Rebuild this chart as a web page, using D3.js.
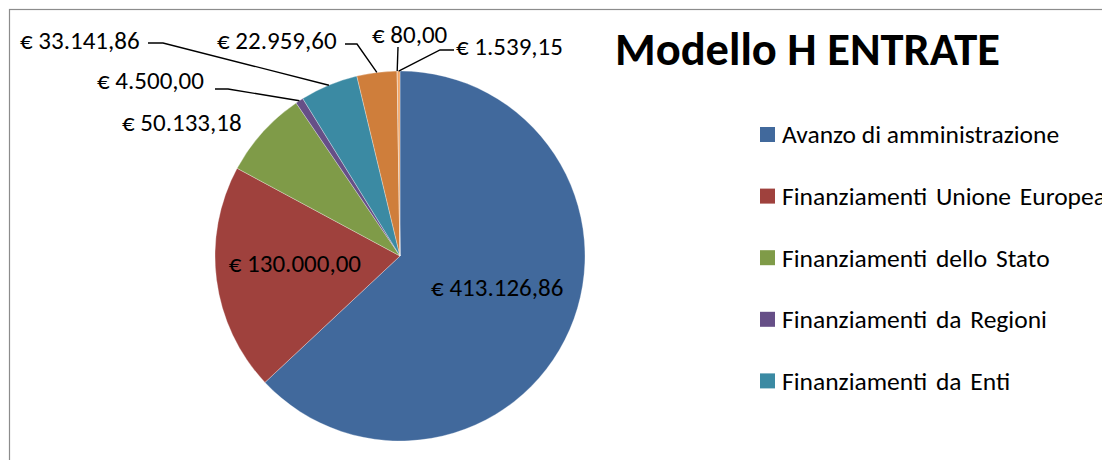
<!DOCTYPE html>
<html lang="it">
<head>
<meta charset="utf-8">
<title>Modello H ENTRATE</title>
<script src="https://d3js.org/d3.v7.min.js"></script>
<style>
body { margin: 0; background: #fff; }
text { font-family: Carlito, Lato, "Open Sans", sans-serif; fill: #000; }
.lbl { font-size: 25px; }
.legend text { font-size: 25.5px; }
.title { font-size: 46.5px; font-weight: 700; }
.leader { fill: none; stroke: #000; stroke-width: 1.4px; }
</style>
</head>
<body>
<div id="chart"></div>
<script>
// entrate (valori in euro)
var categories = [
    "Avanzo di amministrazione",
    "Finanziamenti Unione Europea",
    "Finanziamenti dello Stato",
    "Finanziamenti da Regioni",
    "Finanziamenti da Enti",
    "Contributi da Privati",
    "Proventi da gestioni economiche",
    "Altre entrate"
];
var values = [413126.86, 130000.00, 50133.18, 4500.00, 33141.86, 22959.60, 80.00, 1539.15];
var colors = ["#41699c", "#9f413d", "#7f9b48", "#664f87", "#3b8aa3", "#cf7e3b", "#2c4d75", "#f2a463"];
var legendCount = 5; // only five entries fit in the legend box

var width = 1102, height = 460;
var cx = 400, cy = 256, radius = 185;

// label placement relative to pie centre
var innerShift = [-11, -6];
var labelLayout = {
    2: {x: -278, y: -134, leader: null},
    3: {x: -303, y: -176, leader: [[-185, -167], [-172, -167]]},
    4: {x: -380, y: -216, leader: [[-252, -213], [-237, -213]]},
    5: {x: -183, y: -216, leader: [[-55, -212], [-43, -212]]},
    6: {x: -28, y: -222, leader: [[-2, -209]]},
    7: {x: 56, y: -210, leader: [[54, -206], [40, -206]]}
};

var euro = d3.formatLocale({decimal: ",", thousands: ".", grouping: [3], currency: ["€ ", ""]}).format("$,.2f");

var svg = d3.select("#chart").append("svg")
    .attr("width", width)
    .attr("height", height);

svg.append("rect")
    .attr("x", 9.5).attr("y", 9.5)
    .attr("width", 1200).attr("height", 600)
    .attr("fill", "#fff")
    .attr("stroke", "#8c8c8c")
    .attr("stroke-width", 1.2);

var pie = d3.pie().sort(null).value(function(d){ return d; });
var arcs = pie(values);
var arc = d3.arc().innerRadius(0).outerRadius(radius);
var edge = d3.arc().innerRadius(radius).outerRadius(radius);
var inside = d3.arc().innerRadius(106).outerRadius(106);

var g = svg.append("g").attr("transform", "translate(" + cx + "," + cy + ")");

g.selectAll("path.slice")
    .data(arcs)
    .enter()
    .append("path")
    .attr("class", "slice")
    .attr("d", arc)
    .attr("fill", function(d, i){ return colors[i]; })
    .attr("stroke", "#fff")
    .attr("stroke-width", 0.3);

// labels inside the two big slices
g.selectAll("text.inner")
    .data(arcs.slice(0, 2))
    .enter()
    .append("text")
    .attr("class", "lbl inner")
    .attr("transform", function(d, i){
        var c = inside.centroid(d);
        return "translate(" + c[0] + "," + (c[1] + innerShift[i]) + ")";
    })
    .attr("text-anchor", "middle")
    .attr("dy", "0.35em")
    .text(function(d){ return euro(d.value); });

// labels outside with leader lines
var outer = arcs.filter(function(d, i){ return labelLayout[i]; });

g.selectAll("path.leader")
    .data(outer.filter(function(d){ return labelLayout[d.index].leader; }))
    .enter()
    .append("path")
    .attr("class", "leader")
    .attr("d", function(d){
        var pts = labelLayout[d.index].leader.concat([edge.centroid(d)]);
        return d3.line()(pts);
    });

g.selectAll("text.outer")
    .data(outer)
    .enter()
    .append("text")
    .attr("class", "lbl outer")
    .attr("x", function(d){ return labelLayout[d.index].x; })
    .attr("y", function(d){ return labelLayout[d.index].y; })
    .attr("dy", "0.35em")
    .text(function(d){ return euro(d.value); });

svg.append("text")
    .attr("class", "title")
    .attr("x", 615)
    .attr("y", 65)
    .text("Modello H ENTRATE");

var legend = svg.append("g").attr("class", "legend")
    .selectAll("g")
    .data(categories.slice(0, legendCount))
    .enter()
    .append("g")
    .attr("transform", function(d, i){ return "translate(760," + (127 + i * 61.6) + ")"; });

legend.append("rect")
    .attr("width", 15).attr("height", 15)
    .attr("fill", function(d, i){ return colors[i]; });

legend.append("text")
    .attr("x", 22)
    .attr("y", 7.5)
    .attr("dy", "0.35em")
    .style("word-spacing", function(d, i){ return i == 0 ? "0px" : "3px"; })
    .text(function(d){ return d; });
</script>
</body>
</html>
